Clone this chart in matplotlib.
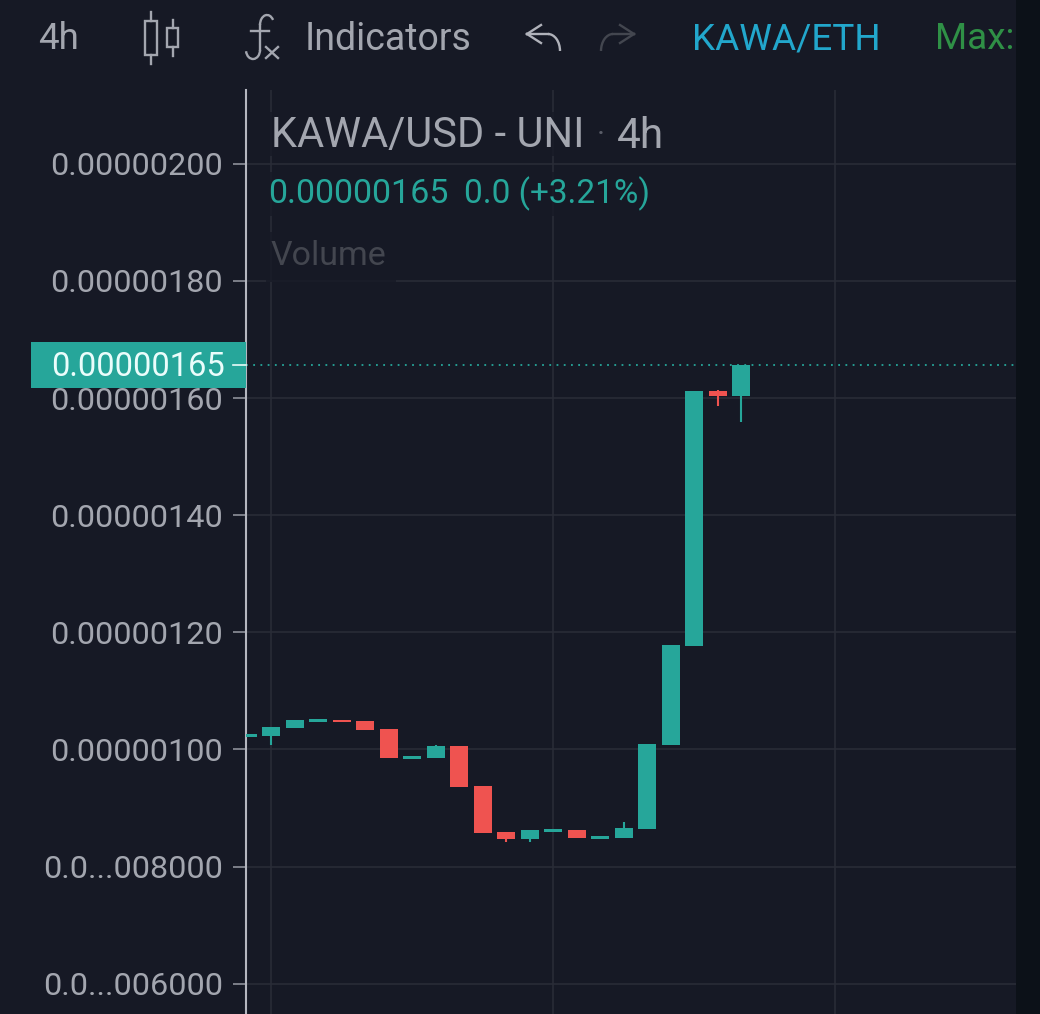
import matplotlib
matplotlib.use("Agg")
import matplotlib.pyplot as plt
from matplotlib.patches import Rectangle, Arc
from matplotlib.ticker import FixedLocator, FixedFormatter

# Candles, values in 1e-6 USD
opens = [1.0205, 1.0227, 1.0359, 1.0466, 1.0495, 1.0478, 1.0341, 0.9834, 0.9846, 1.0051, 0.9368,
         0.8583, 0.8463, 0.8588, 0.8617, 0.8468, 0.8480, 0.8634, 1.0068, 1.1759, 1.6112, 1.6032]
closes = [1.0256, 1.0376, 1.0495, 1.0512, 1.0461, 1.0324, 0.9846, 0.9880, 1.0051, 0.9351, 0.8566,
          0.8463, 0.8617, 0.8634, 0.8480, 0.8515, 0.8651, 1.0085, 1.1776, 1.6112, 1.6027, 1.6556]
highs = [1.0256, 1.0376, 1.0495, 1.0512, 1.0495, 1.0478, 1.0341, 0.9880, 1.0068, 1.0051, 0.9368,
         0.8583, 0.8617, 0.8634, 0.8617, 0.8515, 0.8754, 1.0085, 1.1776, 1.6112, 1.6129, 1.6556]
lows = [1.0205, 1.0073, 1.0359, 1.0466, 1.0461, 1.0324, 0.9846, 0.9834, 0.9846, 0.9351, 0.8566,
        0.8412, 0.8412, 0.8588, 0.8480, 0.8468, 0.8480, 0.8634, 1.0068, 1.1759, 1.5861, 1.5588]

price_ticks = [2.0, 1.8, 1.6, 1.4, 1.2, 1.0, 0.8, 0.6]
price_labels = ["0.00000200", "0.00000180", "0.00000160", "0.00000140", "0.00000120",
                "0.00000100", "0.0...008000", "0.0...006000"]
time_ticks = [1, 13, 25]
last_price = 1.6556

BG = "#161925"
UP = "#26a69a"
DOWN = "#ef5350"
GRID = "#2a2d38"
TEXT = "#a3a6af"
W, H = 1040, 1014

plt.rcParams['font.family'] = ['Roboto', 'DejaVu Sans']

fig = plt.figure(figsize=(W / 100, H / 100), dpi=100, facecolor=BG)

# Price chart
ax = fig.add_axes([246 / W, 0, (1016 - 246) / W, (H - 90) / H], facecolor=BG)
ax.set_xlim(-0.064, 32.7)
ax.set_ylim(0.5482, 2.1259)
for s in ['top', 'right', 'bottom']:
    ax.spines[s].set_visible(False)
ax.spines['left'].set_color("#b4b6bf")
ax.spines['left'].set_linewidth(1.5)
ax.yaxis.set_major_locator(FixedLocator(price_ticks))
ax.yaxis.set_major_formatter(FixedFormatter(price_labels))
ax.tick_params(axis='y', length=9.5, width=1.2, color="#8d909a", labelcolor=TEXT,
               labelsize=23.3, pad=7)
ax.set_xticks(time_ticks)
ax.tick_params(axis='x', length=0, labelbottom=False)
ax.grid(True, color=GRID, linewidth=1.1)
ax.set_axisbelow(True)

for i in range(len(opens)):
    color = UP if closes[i] >= opens[i] else DOWN
    ax.vlines(i, lows[i], highs[i], color=color, linewidth=1.5, zorder=3)
    bottom = min(opens[i], closes[i])
    ax.bar(i, abs(closes[i] - opens[i]), bottom=bottom, width=0.766, color=color,
           linewidth=0, zorder=4)

ax.axhline(last_price, color=UP, linewidth=1.3, linestyle=(0, (1, 3)), zorder=2)

# Overlay in pixel coordinates: toolbar, legend, price tag
ov = fig.add_axes([0, 0, 1, 1], facecolor='none')
ov.set_xlim(0, W)
ov.set_ylim(H, 0)
ov.axis('off')

ov.add_patch(Rectangle((1016, 0), 24, H, color="#0c1118", linewidth=0))

# legend backdrops hide the grid
ov.add_patch(Rectangle((266, 112), 408, 44, color=BG, alpha=0.75, linewidth=0))
ov.add_patch(Rectangle((266, 172), 392, 44, color=BG, alpha=0.75, linewidth=0))
ov.add_patch(Rectangle((266, 232), 130, 50, color=BG, alpha=0.75, linewidth=0))

ov.text(271, 136, "KAWA/USD - UNI", color=TEXT, fontsize=30, va='center', ha='left')
ov.text(601, 136, "·", color="#5a5d68", fontsize=22, va='center', ha='center')
ov.text(617, 136, "4h", color=TEXT, fontsize=30.5, va='center', ha='left')
ov.text(268, 194, "0.00000165", color=UP, fontsize=24.5, va='center', ha='left')
ov.text(464, 194, "0.0 (+3.21%)", color=UP, fontsize=24, va='center', ha='left')
ov.text(271, 256, "Volume", color="#43464f", fontsize=24.5, va='center', ha='left')

# last price tag
ov.add_patch(Rectangle((31, 342), 215, 46, color=UP, linewidth=0))
ov.plot([233, 246], [365, 365], color="#e8fbf8", linewidth=1.2)
ov.text(225, 367, "0.00000165", color="#eafdfb", fontsize=23.5, va='center', ha='right')

# toolbar
ov.text(38, 39, "4h", color=TEXT, fontsize=26.5, va='center', ha='left')
ov.text(305, 39, "Indicators", color=TEXT, fontsize=27, va='center', ha='left')
ov.text(692, 39, "KAWA/ETH", color="#22a7cc", fontsize=26.6, va='center', ha='left')
ov.text(935, 39, "Max:", color="#2f9046", fontsize=26.6, va='center', ha='left')

# candle icon
ICON = "#a3a6af"
ov.add_patch(Rectangle((145, 21), 12, 34, fill=False, edgecolor=ICON, linewidth=1.7))
ov.plot([151, 151], [12, 21], color=ICON, linewidth=1.7)
ov.plot([151, 151], [55, 64], color=ICON, linewidth=1.7)
ov.add_patch(Rectangle((167, 28), 11, 19, fill=False, edgecolor=ICON, linewidth=1.7))
ov.plot([172.5, 172.5], [20, 28], color=ICON, linewidth=1.7)
ov.plot([172.5, 172.5], [47, 56], color=ICON, linewidth=1.7)

# fx icon
ov.plot([260, 260], [25, 50], color=ICON, linewidth=1.7)
ov.add_patch(Arc((267, 25), 14, 20, theta1=180, theta2=320, color=ICON, linewidth=1.7))
ov.add_patch(Arc((253, 50), 14, 18, theta1=0, theta2=170, color=ICON, linewidth=1.7))
ov.plot([251, 269], [31, 31], color=ICON, linewidth=1.7)
ov.plot([266, 278], [47, 58], color=ICON, linewidth=1.7)
ov.plot([278, 266], [47, 58], color=ICON, linewidth=1.7)

# undo, redo
ov.plot([527, 541], [34, 25], color="#b0b2ba", linewidth=1.7)
ov.plot([527, 541], [34, 43], color="#b0b2ba", linewidth=1.7)
ov.plot([527, 548], [34, 34], color="#b0b2ba", linewidth=1.7)
ov.add_patch(Arc((548, 51), 24, 34, theta1=270, theta2=360, color="#b0b2ba", linewidth=1.7))
ov.plot([634, 620], [34, 25], color="#43464f", linewidth=1.7)
ov.plot([634, 620], [34, 43], color="#43464f", linewidth=1.7)
ov.plot([634, 613], [34, 34], color="#43464f", linewidth=1.7)
ov.add_patch(Arc((613, 51), 24, 34, theta1=180, theta2=270, color="#43464f", linewidth=1.7))

fig.savefig("out.png", dpi=100, facecolor=BG)
